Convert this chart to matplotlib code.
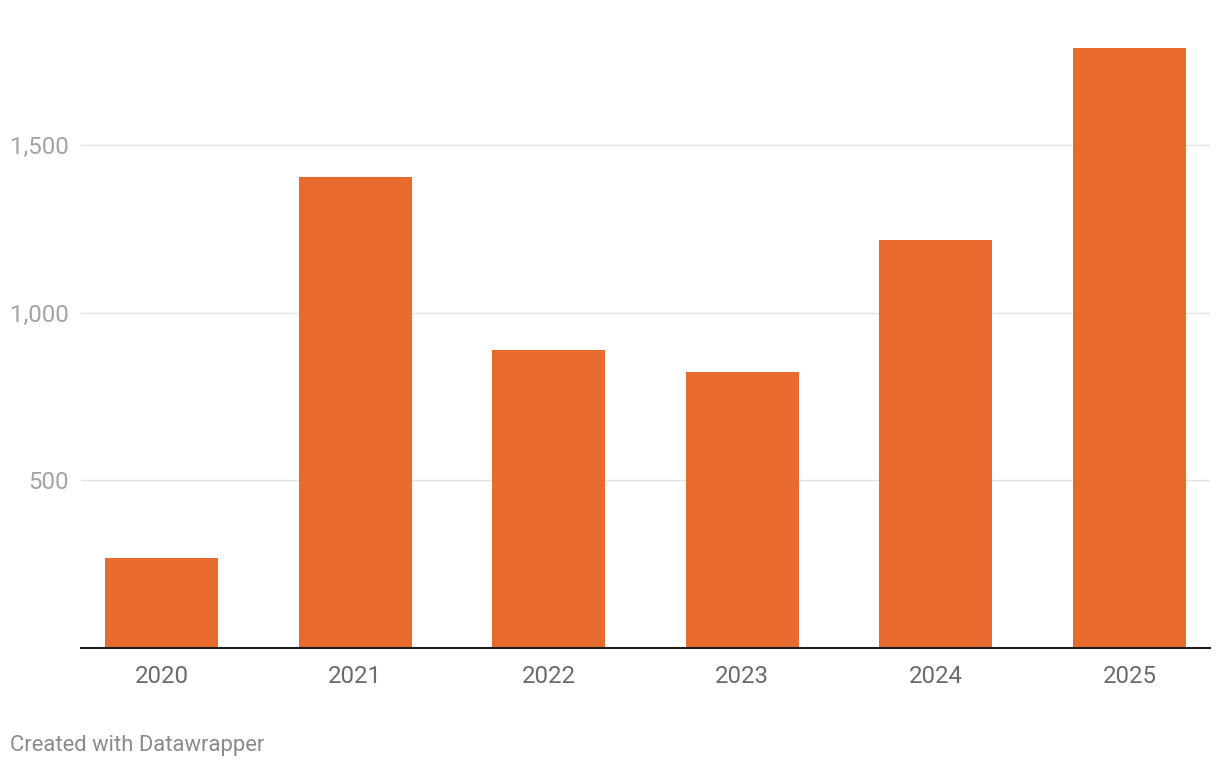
import matplotlib.pyplot as plt

years = ['2020', '2021', '2022', '2023', '2024', '2025']
values = [268, 1405, 888, 823, 1217, 1790]
y_ticks = [500, 1000, 1500]
y_tick_labels = ['500', '1,000', '1,500']

plt.rcParams['font.family'] = ['Roboto', 'DejaVu Sans']

W, H = 1220, 770
fig = plt.figure(figsize=(W / 100, H / 100), dpi=100)
ax = fig.add_axes([81 / W, (H - 647.7) / H, (1210 - 81) / W, (647.7 - 11) / H])

x = list(range(len(years)))
ax.bar(x, values, width=0.584, color='#e76b2f', zorder=3)

ax.set_xlim(-0.416, len(years) - 1 + 0.416)
ax.set_ylim(0, 1900)

ax.set_yticks(y_ticks)
ax.set_yticklabels(y_tick_labels)
ax.set_xticks(x)
ax.set_xticklabels(years)

ax.grid(axis='y', color='#e3e3e3', linewidth=1.0, zorder=0)
ax.tick_params(axis='y', length=0, pad=8.5, labelsize=17.4, labelcolor='#a3a3a3')
ax.tick_params(axis='x', length=0, pad=12.5, labelsize=17.3, labelcolor='#6b6b6b')

for s in ['top', 'right', 'left']:
    ax.spines[s].set_visible(False)
ax.spines['bottom'].set_color('#1e1e1e')
ax.spines['bottom'].set_linewidth(1.5)
ax.spines['bottom'].set_zorder(4)

fig.text(10 / W, 1 - 746 / H, 'Created with Datawrapper', fontsize=15.8,
         color='#8a8a8a', ha='left', va='center')

fig.savefig('out.png', dpi=100, facecolor='white')
